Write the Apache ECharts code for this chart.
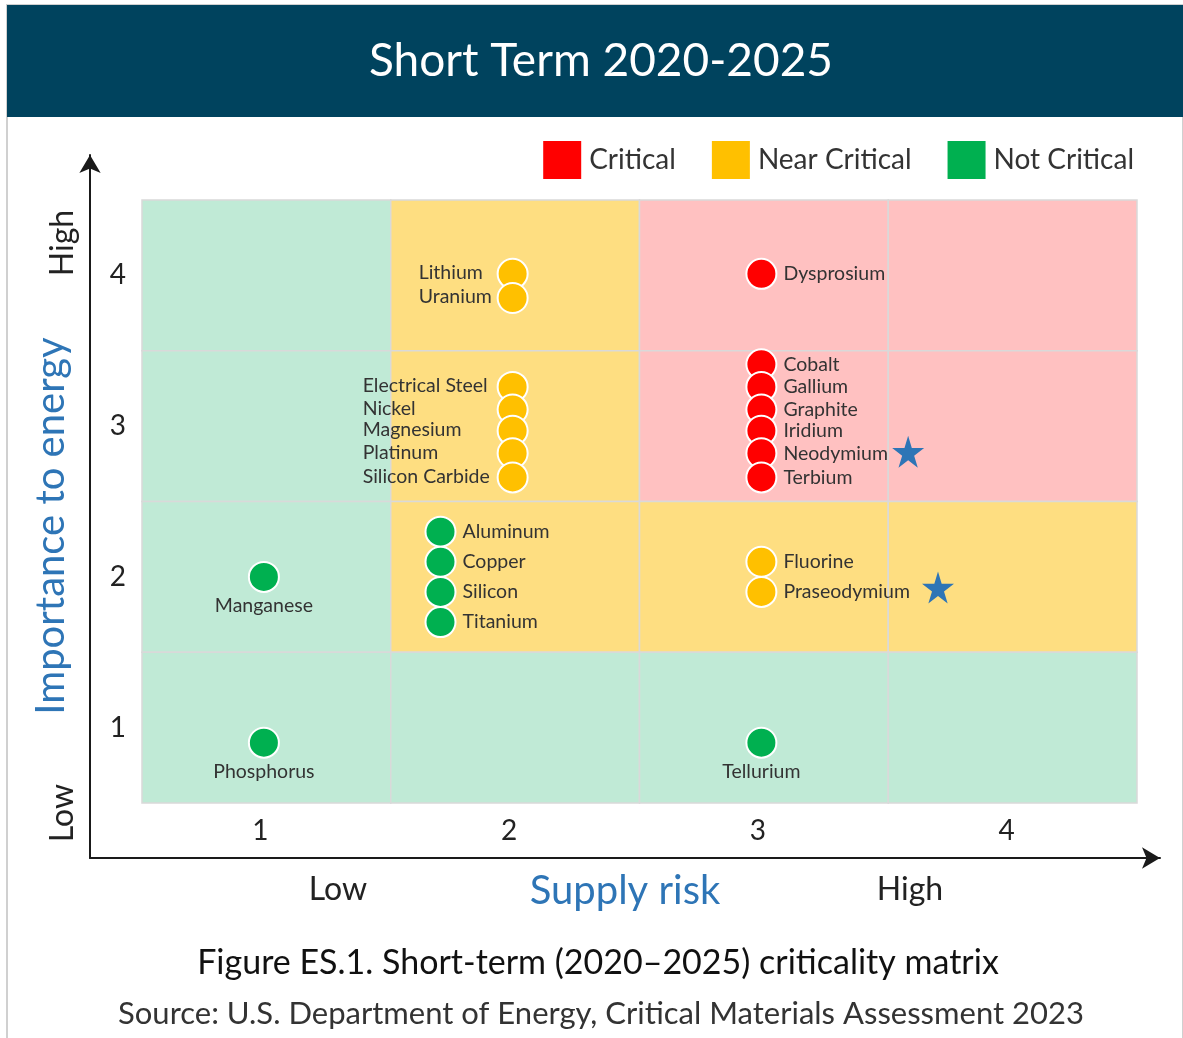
<!DOCTYPE html>
<html>
<head>
<meta charset="utf-8">
<script src="https://cdn.jsdelivr.net/npm/echarts@6/dist/echarts.min.js"></script>
<style>
    html, body {margin: 0;padding: 0;background: #fff;}
    #chart {width: 1183px;height: 1038px;}
</style>
</head>
<body>
<div id="chart"></div>
<script>
// materials
const materials = ['Lithium', 'Uranium', 'Dysprosium',
    'Electrical Steel', 'Nickel', 'Magnesium', 'Platinum', 'Silicon Carbide',
    'Cobalt', 'Gallium', 'Graphite', 'Iridium', 'Neodymium', 'Terbium',
    'Manganese', 'Aluminum', 'Copper', 'Silicon', 'Titanium',
    'Fluorine', 'Praseodymium', 'Phosphorus', 'Tellurium'];
const supplyRisk = [1.99, 1.99, 2.99,
    1.99, 1.99, 1.99, 1.99, 1.99,
    2.99, 2.99, 2.99, 2.99, 2.99, 2.99,
    0.99, 1.70, 1.70, 1.70, 1.70,
    2.99, 2.99, 0.99, 2.99];
const importance = [4.01, 3.85, 4.01,
    3.26, 3.11, 2.97, 2.82, 2.66,
    3.41, 3.26, 3.11, 2.97, 2.82, 2.66,
    2.00, 2.30, 2.10, 1.90, 1.70,
    2.10, 1.90, 0.90, 0.90];
const status = ['Near Critical', 'Near Critical', 'Critical',
    'Near Critical', 'Near Critical', 'Near Critical', 'Near Critical', 'Near Critical',
    'Critical', 'Critical', 'Critical', 'Critical', 'Critical', 'Critical',
    'Not Critical', 'Not Critical', 'Not Critical', 'Not Critical', 'Not Critical',
    'Near Critical', 'Near Critical', 'Not Critical', 'Not Critical'];
// starred materials
const starX = [3.58, 3.70];
const starY = [2.83, 1.93];
// zone of each cell, top row (importance 4) first, supply risk 1..4
const zoneRows = [
    ['Not Critical', 'Near Critical', 'Critical', 'Critical'],
    ['Not Critical', 'Near Critical', 'Critical', 'Critical'],
    ['Not Critical', 'Near Critical', 'Near Critical', 'Near Critical'],
    ['Not Critical', 'Not Critical', 'Not Critical', 'Not Critical']
];
const tickValues = [1, 2, 3, 4];
const statusNames = ['Critical', 'Near Critical', 'Not Critical'];

const dotColor = {'Critical': '#ff0000', 'Near Critical': '#ffc000', 'Not Critical': '#00b050'};
const zoneColor = {'Critical': '#ffc1c1', 'Near Critical': '#fede81', 'Not Critical': '#c0ead6'};
// labels left of the dot are set as a left-aligned block (px from the symbol box)
const leftLabelShift = {'Lithium': -78, 'Uranium': -78, 'Electrical Steel': -134, 'Nickel': -134,
    'Magnesium': -134, 'Platinum': -134, 'Silicon Carbide': -134};
const bottomLabels = ['Manganese', 'Phosphorus', 'Tellurium'];
const font = 'Lato, "Noto Sans", sans-serif';
const starPath = 'path://M50,0 L61,35 L98,35 L68,57 L79,91 L50,70 L21,91 L32,57 L2,35 L39,35 Z';

let myChart = echarts.init(document.getElementById('chart'));

// 背景格子
let cells = [];
zoneRows.forEach(function (row, r) {
    let y = 4 - r;
    row.forEach(function (zone, c) {
        cells.push([
            {xAxis: c + 0.5, yAxis: y - 0.5, itemStyle: {color: zoneColor[zone]}},
            {xAxis: c + 1.5, yAxis: y + 0.5}
        ]);
    });
});

let series = [{
    name: 'zones',
    type: 'scatter',
    data: [],
    silent: true,
    markArea: {
        silent: true,
        itemStyle: {borderColor: '#d9d9d9', borderWidth: 1.5},
        data: cells
    }
}];

statusNames.forEach(function (s) {
    let data = [];
    materials.forEach(function (m, i) {
        if (status[i] !== s) return;
        let label = {position: 'right', distance: 6};
        if (leftLabelShift[m] !== undefined) {
            label = {position: [leftLabelShift[m], 15], align: 'left', verticalAlign: 'middle'};
        }
        if (bottomLabels.indexOf(m) >= 0) label = {position: 'bottom', distance: 3};
        data.push({name: m, value: [supplyRisk[i], importance[i]], label: label});
    });
    series.push({
        name: s,
        type: 'scatter',
        symbolSize: 30,
        itemStyle: {color: dotColor[s], borderColor: '#fff', borderWidth: 2, opacity: 1},
        label: {show: true, formatter: '{b}', color: '#333', fontSize: 19.5, fontFamily: font},
        data: data
    });
});

series.push({
    name: 'star',
    type: 'scatter',
    symbol: starPath,
    symbolSize: 32,
    itemStyle: {color: '#2e75b6', opacity: 1},
    data: starX.map(function (x, i) { return [x, starY[i]]; })
});

myChart.setOption({
    animation: false,
    textStyle: {fontFamily: font},
    legend: {
        data: statusNames,
        top: 136,
        right: 44,
        icon: 'rect',
        itemWidth: 38,
        itemHeight: 38,
        itemGap: 36,
        itemStyle: {borderWidth: 0},
        textStyle: {fontSize: 28, color: '#333', padding: [0, 0, 0, 3]}
    },
    grid: [
        {left: 142, right: 46, top: 200, bottom: 235},
        {left: 90, right: 23, top: 155, bottom: 180}
    ],
    xAxis: [{
        type: 'value', min: 0.5, max: 4.5,
        axisLine: {show: false}, axisTick: {show: false}, splitLine: {show: false},
        axisLabel: {customValues: tickValues, fontSize: 28, color: '#222', margin: 14, padding: [0, 12, 0, 0]}
    }, {
        gridIndex: 1, type: 'value', min: 0, max: 1,
        axisLine: {show: true, symbol: ['none', 'arrow'], symbolSize: [16, 18], lineStyle: {color: '#1a1a1a', width: 2}},
        axisTick: {show: false}, axisLabel: {show: false}, splitLine: {show: false},
        name: 'Supply risk', nameLocation: 'middle', nameGap: 13,
        nameTextStyle: {fontSize: 40, color: '#2e75b6', verticalAlign: 'top'}
    }],
    yAxis: [{
        type: 'value', min: 0.5, max: 4.5,
        axisLine: {show: false}, axisTick: {show: false}, splitLine: {show: false},
        axisLabel: {customValues: tickValues, fontSize: 28, color: '#222', margin: 16}
    }, {
        gridIndex: 1, type: 'value', min: 0, max: 1,
        axisLine: {show: true, symbol: ['none', 'arrow'], symbolSize: [16, 18], lineStyle: {color: '#1a1a1a', width: 2}},
        axisTick: {show: false}, axisLabel: {show: false}, splitLine: {show: false}
    }],
    graphic: [
        {type: 'rect', shape: {x: 7, y: 5, width: 1176, height: 1040}, style: {fill: 'none', stroke: '#d0d0d0', lineWidth: 2}, silent: true},
        {type: 'rect', shape: {x: 7, y: 5, width: 1176, height: 112}, style: {fill: '#00435e'}, silent: true},
        {type: 'text', x: 601, y: 61, style: {text: 'Short Term 2020-2025', fill: '#fff', fontSize: 46, fontFamily: font, align: 'center', verticalAlign: 'middle'}},
        {type: 'text', x: 338, y: 890, style: {text: 'Low', fill: '#222', fontSize: 32, fontFamily: font, align: 'center', verticalAlign: 'middle'}},
        {type: 'text', x: 910, y: 890, style: {text: 'High', fill: '#222', fontSize: 32, fontFamily: font, align: 'center', verticalAlign: 'middle'}},
        {type: 'text', x: 63, y: 243, rotation: Math.PI / 2, style: {text: 'High', fill: '#222', fontSize: 32, fontFamily: font, align: 'center', verticalAlign: 'middle'}},
        {type: 'text', x: 63, y: 813, rotation: Math.PI / 2, style: {text: 'Low', fill: '#222', fontSize: 32, fontFamily: font, align: 'center', verticalAlign: 'middle'}},
        {type: 'text', x: 51, y: 526, rotation: Math.PI / 2, style: {text: 'Importance to energy', fill: '#2e75b6', fontSize: 40, fontFamily: font, align: 'center', verticalAlign: 'middle'}},
        {type: 'text', x: 598, y: 963, style: {text: 'Figure ES.1. Short-term (2020\u20132025) criticality matrix', fill: '#111', fontSize: 34, fontFamily: font, align: 'center', verticalAlign: 'middle'}},
        {type: 'text', x: 601, y: 1014, style: {text: 'Source: U.S. Department of Energy, Critical Materials Assessment 2023', fill: '#333', fontSize: 31, fontFamily: font, align: 'center', verticalAlign: 'middle'}}
    ],
    series: series
});
</script>
</body>
</html>
